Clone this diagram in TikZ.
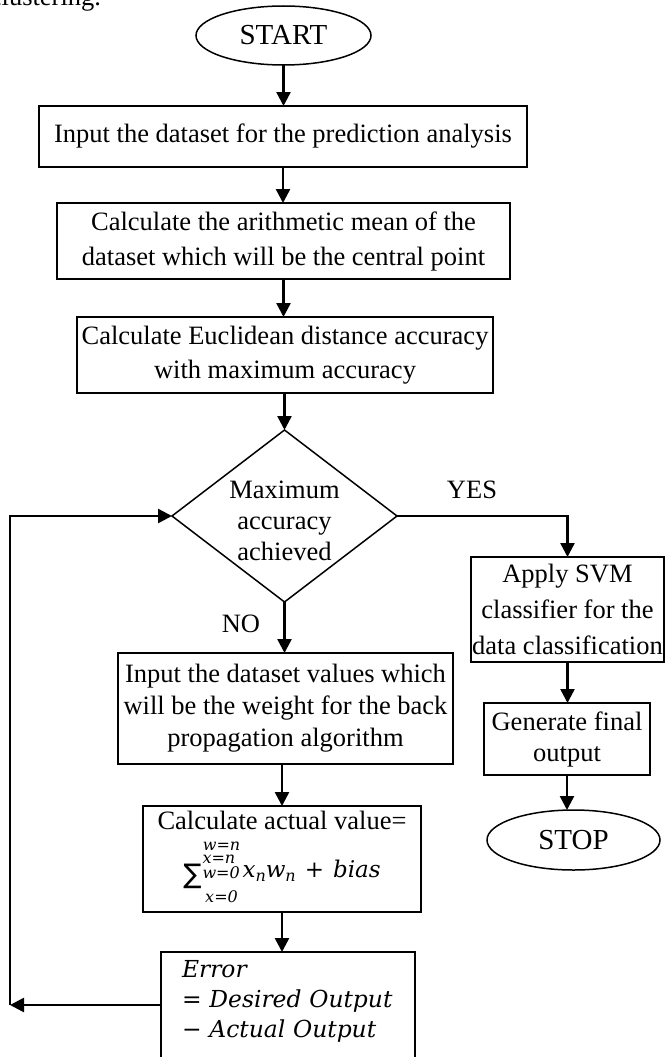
\documentclass[tikz,border=0pt]{standalone}
\usepackage{fontspec}
\setmainfont{Liberation Serif}
\newfontfamily\eqfont{DejaVu Serif}
\newfontfamily\symfont{DejaVu Sans}
\usetikzlibrary{shapes.geometric,arrows.meta,calc}
\newcommand\scr[1]{{\eqfont\itshape\fontsize{16}{16}\selectfont #1}}
\newcommand\formulaline{%
  {\symfont\fontsize{27}{27}\selectfont\raisebox{-6pt}{∑}}\kern1pt
  \rlap{\raisebox{26.5pt}{\makebox[38pt][c]{\scr{w=n}}}}%
  \rlap{\raisebox{13.5pt}{\makebox[38pt][l]{\scr{x=n}}}}%
  \rlap{\raisebox{-1pt}{\makebox[38pt][l]{\scr{w=0}}}}%
  \raisebox{-25pt}{\makebox[38pt][c]{\scr{x=0}}}%
  \kern2pt
  {\eqfont\itshape\fontsize{23}{23}\selectfont x\raisebox{-4pt}{\scr{n}}w\raisebox{-4pt}{\scr{n}}\kern9pt{\upshape +}\kern9pt bias}}
\tikzset{
  box/.style={draw, line width=1.5pt, inner sep=0pt, outer sep=0pt, align=center, font=\fontsize{26.5}{34}\selectfont},
  term/.style={draw, ellipse, line width=1.5pt, inner sep=0pt, outer sep=0pt, font=\fontsize{29}{34}\selectfont},
  decision/.style={draw, diamond, line width=1.5pt, inner sep=0pt, outer sep=0pt},
  lbl/.style={inner sep=0pt, outer sep=0pt, align=center, font=\fontsize{26.5}{34}\selectfont},
  flow/.style={line width=2.5pt, -{Triangle[length=14pt,width=14pt]}},
}
\begin{document}
\begin{tikzpicture}[x=1pt,y=-1pt]
\clip (0,0) rectangle (665,1057);
\useasboundingbox (0,0) rectangle (665,1057);

\node[lbl, anchor=base east] (clu) at (101,6) {clustering.};

\node[term, minimum width=175pt, minimum height=59pt] (start) at (283.5,35.5) {START};
\node[box, minimum width=488pt, minimum height=61pt] (in1) at (283,136.5) {Input the dataset for the prediction analysis};
\node[box, minimum width=453pt, minimum height=76pt, font=\fontsize{26.5}{35}\selectfont] (mean) at (283.5,241) {Calculate the arithmetic mean of the\\dataset which will be the central point};
\node[box, minimum width=416pt, minimum height=76pt] (eucl) at (285,355) {Calculate Euclidean distance accuracy\\with maximum accuracy};
\node[decision, minimum width=225pt, minimum height=172pt] (dec) at (284.5,516) {};
\node[lbl, font=\fontsize{26.5}{31}\selectfont] (dtxt) at (284.5,521) {Maximum\\accuracy\\achieved};
\node[lbl] (yes) at (472,490) {YES};
\node[lbl] (no) at (241,624) {NO};

\node[box, minimum width=193pt, minimum height=105pt, font=\fontsize{26.5}{36}\selectfont] (svm) at (567.5,609.5) {Apply SVM\\classifier for the\\data classification};
\node[box, minimum width=166pt, minimum height=72pt, font=\fontsize{26.5}{31}\selectfont] (gen) at (567,739) {Generate final\\output};
\node[term, minimum width=173pt, minimum height=60pt] (stop) at (573.5,840) {STOP};

\node[box, minimum width=335pt, minimum height=111pt, font=\fontsize{26.5}{32}\selectfont] (vals) at (285.5,708.5) {Input the dataset values which\\will be the weight for the back\\propagation algorithm};
\node[box, minimum width=278pt, minimum height=106pt] (calc) at (282,859) {\vbox to 106pt{\offinterlineskip
  \kern23pt\hbox to 278pt{\hss\smash{Calculate actual value=}\hss}%
  \kern48pt\hbox to 278pt{\hss\smash{\formulaline}\hss}%
  \vss}};
\node[box, align=left, text width=212pt, minimum width=254pt, minimum height=124pt, font=\eqfont\itshape\fontsize{23.4}{30}\selectfont] (err) at (288,1014) {Error\\= Desired Output\\− Actual Output\\\mbox{}};

\coordinate (lb) at (10,1005);
\coordinate (lt) at (10,516);

\draw[flow] (start.south) -- (start.south |- in1.north);
\draw[flow] (in1.south) -- (in1.south |- mean.north);
\draw[flow] (mean.south) -- (mean.south |- eucl.north);
\draw[flow] (dec.north |- eucl.south) -- (dec.north);
\draw[flow] (dec.east) -- (svm.north |- dec.east) -- (svm.north);
\draw[flow] (dec.south) -- (dec.south |- vals.north);
\draw[flow] (calc.north |- vals.south) -- (calc.north);
\draw[flow] (calc.south) -- (calc.south |- err.north);
\draw[flow] (svm.south) -- (svm.south |- gen.north);
\draw[flow] (gen.south) -- (gen.south |- stop.north);
\draw[flow] (err.west |- lb) -- (lb);
\draw[flow] (lb) -- (lt) -- (dec.west);
\end{tikzpicture}
\end{document}
